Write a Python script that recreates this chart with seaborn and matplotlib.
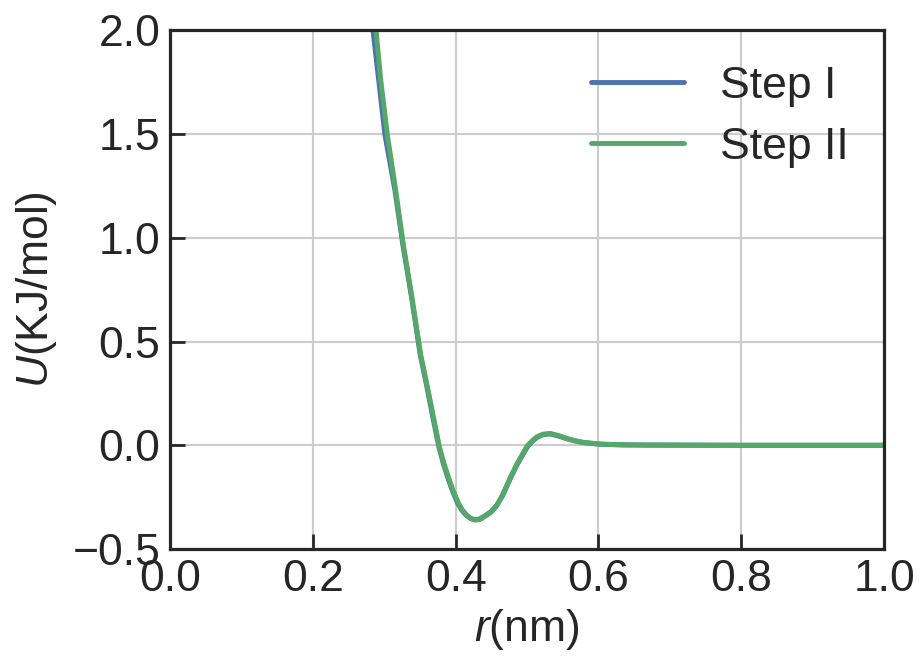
import numpy as np
import pandas as pd
import matplotlib
matplotlib.use("Agg")
import matplotlib.pyplot as plt
import seaborn as sns

# Pair potential U(r) after each refinement step
r_step1 = [0.282, 0.2843, 0.2923, 0.3011, 0.3150, 0.3262, 0.3380, 0.3505, 0.3588,
           0.3680, 0.3765, 0.3825, 0.3890, 0.3958, 0.4030, 0.4085, 0.4142, 0.4210,
           0.4265, 0.4330, 0.4395, 0.4495, 0.4576, 0.4660, 0.4765, 0.4870, 0.5000,
           0.5070, 0.5140, 0.5220, 0.5320, 0.5430, 0.5556, 0.5670, 0.5790, 0.6020,
           0.6350, 0.6720, 0.8000, 1.0000]
u_step1 = [2.12, 2.00, 1.759, 1.494, 1.229, 0.964, 0.719, 0.435, 0.298,
           0.137, -0.007, -0.085, -0.155, -0.222, -0.280, -0.312, -0.335, -0.352,
           -0.358, -0.356, -0.343, -0.320, -0.290, -0.240, -0.160, -0.087, -0.010,
           0.018, 0.038, 0.051, 0.055, 0.046, 0.032, 0.021, 0.013, 0.005,
           0.002, 0.001, 0.000, 0.000]

r_step2 = [0.286, 0.2885, 0.2951, 0.3044, 0.3160, 0.3268, 0.3385, 0.3511, 0.3595,
           0.3688, 0.3772, 0.3832, 0.3898, 0.3966, 0.4038, 0.4092, 0.4150, 0.4215,
           0.4272, 0.4335, 0.4400, 0.4498, 0.4576, 0.4660, 0.4762, 0.4866, 0.4996,
           0.5066, 0.5136, 0.5220, 0.5320, 0.5430, 0.5556, 0.5670, 0.5790, 0.6020,
           0.6350, 0.6720, 0.8000, 1.0000]
u_step2 = [2.12, 2.00, 1.759, 1.494, 1.229, 0.964, 0.719, 0.435, 0.298,
           0.137, -0.007, -0.083, -0.153, -0.220, -0.278, -0.311, -0.335, -0.354,
           -0.360, -0.358, -0.345, -0.322, -0.290, -0.238, -0.158, -0.085, -0.007,
           0.020, 0.040, 0.053, 0.057, 0.048, 0.033, 0.022, 0.014, 0.006,
           0.002, 0.001, 0.000, 0.000]

labels = ["Step I", "Step II"]

x_ticks = [0.0, 0.2, 0.4, 0.6, 0.8, 1.0]
y_ticks = [-0.5, 0.0, 0.5, 1.0, 1.5, 2.0]

df = pd.concat([
    pd.DataFrame({"r": r_step1, "U": u_step1, "step": labels[0]}),
    pd.DataFrame({"r": r_step2, "U": u_step2, "step": labels[1]}),
], ignore_index=True)

sns.set_style("whitegrid")
plt.rcParams["font.family"] = ["Liberation Sans", "DejaVu Sans"]
plt.rcParams["mathtext.fontset"] = "custom"
plt.rcParams["mathtext.rm"] = "Liberation Sans"
plt.rcParams["mathtext.it"] = "Liberation Sans:italic"
plt.rcParams["xtick.bottom"] = True
plt.rcParams["ytick.left"] = True

fig = plt.figure(figsize=(9.19, 6.56), dpi=100)
ax = fig.add_axes([0.185, 0.163, 0.777, 0.791])

palette = {labels[0]: "#4C72B0", labels[1]: "#55A868"}
sns.lineplot(data=df, x="r", y="U", hue="step", palette=palette,
             sort=False, estimator=None, linewidth=3.6, ax=ax)

ax.set_xlim(0, 1)
ax.set_ylim(-0.5, 2.0)
ax.set_xticks(x_ticks)
ax.set_yticks(y_ticks)
ax.set_xticklabels([f"{v:.1f}" for v in x_ticks])
ax.set_yticklabels([f"{v:.1f}".replace("-", "\u2212") for v in y_ticks])

ax.grid(True, color="#cccccc", linewidth=1.5)
for side, sp in ax.spines.items():
    sp.set_color("#262626")
    sp.set_linewidth(2.3)

ax.tick_params(axis="both", which="major", direction="in", length=11,
               width=2.0, color="#262626", labelsize=32, labelcolor="#262626",
               pad=7, bottom=True, left=True, top=False, right=False)

ax.set_xlabel(r"$r$(nm)", fontsize=32, color="#262626", labelpad=5)
ax.set_ylabel(r"$U$(KJ/mol)", fontsize=32, color="#262626", labelpad=10)

handles, lbls = ax.get_legend_handles_labels()
leg = ax.legend(handles, lbls, loc="upper right", frameon=False, fontsize=32,
                handlelength=2.1, labelspacing=0.45, borderaxespad=0.4,
                handletextpad=0.8)
for line in leg.get_lines():
    line.set_linewidth(3.5)

fig.savefig("out.png", dpi=100)
